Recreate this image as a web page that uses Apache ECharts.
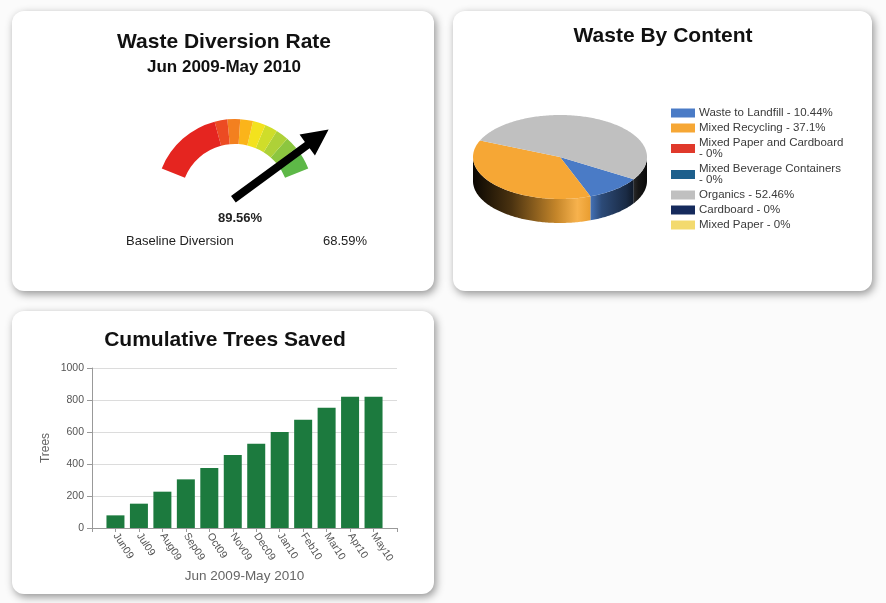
<!DOCTYPE html>
<html><head><meta charset="utf-8">
<script src="https://cdn.jsdelivr.net/npm/echarts@6/dist/echarts.min.js"></script>
<style>html,body{margin:0;padding:0;background:#fbfbfb}#c{width:886px;height:603px}</style>
</head><body><div id="c"></div>
<script>
// ---------- data ----------
const gaugeTitle = 'Waste Diversion Rate';
const gaugeSubtitle = 'Jun 2009-May 2010';
const gaugeValue = 89.56;
const baselineLabel = 'Baseline Diversion';
const baselineValue = 68.59;
const gaugeBandStops = [0.39, 0.459, 0.528, 0.597, 0.666, 0.735, 0.804, 0.873, 1];
const gaugeBandColors = ['#e52520', '#ec4b23', '#f3801f', '#fbb41a', '#f3e21e', '#cfdd2a', '#aed138', '#8cc63f', '#5db847'];

const pieTitle = 'Waste By Content';
const pieNames = ['Waste to Landfill', 'Mixed Recycling', 'Mixed Paper and Cardboard', 'Mixed Beverage Containers', 'Organics', 'Cardboard', 'Mixed Paper'];
const pieValues = [10.44, 37.1, 0, 0, 52.46, 0, 0];
const pieColors = ['#4a7bc6', '#f6a735', '#e0392b', '#1d5f8c', '#c0c0c0', '#152a5c', '#f3da6e'];

const barTitle = 'Cumulative Trees Saved';
const months = ['Jun09', 'Jul09', 'Aug09', 'Sep09', 'Oct09', 'Nov09', 'Dec09', 'Jan10', 'Feb10', 'Mar10', 'Apr10', 'May10'];
const treesSaved = [79, 152, 227, 304, 375, 456, 527, 600, 677, 752, 821, 821];
const treeAxis = { min: 0, max: 1000, step: 200, name: 'Trees' };
const barXName = 'Jun 2009-May 2010';

// ---------- helpers ----------
const FONT = 'Liberation Sans, Arial, sans-serif';
function shade(hex, f) {
  const n = parseInt(hex.slice(1), 16);
  let r = (n >> 16) & 255, g = (n >> 8) & 255, b = n & 255;
  if (f <= 1) { r *= f; g *= f; b *= f; }
  else { const t = f - 1; r += (255 - r) * t; g += (255 - g) * t; b += (255 - b) * t; }
  return 'rgb(' + Math.round(r) + ',' + Math.round(g) + ',' + Math.round(b) + ')';
}

// pie geometry (3D look)
const PIE = { cx: 560, cy: 157, rx: 87, ry: 42, depth: 24, start: -32 };
const total = pieValues.reduce((a, b) => a + b, 0);
let cum = 0;
const pieSlices = pieValues.map(v => {
  const a0 = PIE.start - cum / total * 360;
  cum += v;
  const a1 = PIE.start - cum / total * 360;
  return [v, a0, a1];
});

function ept(deg, dy) {
  const t = deg * Math.PI / 180;
  return [PIE.cx + PIE.rx * Math.cos(t), PIE.cy - PIE.ry * Math.sin(t) + (dy || 0)];
}
function arc(from, to, dy) {
  const pts = [];
  const n = Math.max(2, Math.ceil(Math.abs(to - from)));
  for (let i = 0; i <= n; i++) pts.push(ept(from + (to - from) * i / n, dy));
  return pts;
}
function renderSlice(params, api) {
  const v = api.value(0);
  if (!v) return null;
  const a0 = api.value(1), a1 = api.value(2);
  const base = api.visual('color');
  const children = [];
  for (let k = -1; k <= 2; k++) {
    const f0 = -180 - 360 * k, f1 = -360 * k;
    const lo = Math.max(a1, f0), hi = Math.min(a0, f1);
    if (hi > lo) {
      const pts = arc(lo, hi, 0).concat(arc(hi, lo, PIE.depth));
      children.push({
        type: 'polygon', z2: 1, shape: { points: pts },
        style: {
          fill: {
            type: 'linear', global: true, x: PIE.cx - PIE.rx, y: 0, x2: PIE.cx + PIE.rx, y2: 0,
            colorStops: [
              { offset: 0, color: shade(base, 0.04) },
              { offset: 0.22, color: shade(base, 0.3) },
              { offset: 0.48, color: shade(base, 0.8) },
              { offset: 0.6, color: shade(base, 1.12) },
              { offset: 0.67, color: shade(base, 0.95) },
              { offset: 0.74, color: shade(base, 0.6) },
              { offset: 0.88, color: shade(base, 0.35) },
              { offset: 0.95, color: shade(base, 0.12) },
              { offset: 1, color: shade(base, 0.05) }
            ]
          }
        }
      });
    }
  }
  children.push({
    type: 'polygon', z2: 10,
    shape: { points: [[PIE.cx, PIE.cy]].concat(arc(a0, a1, 0)) },
    style: { fill: base }
  });
  return { type: 'group', children: children };
}

// ---------- chart ----------
const chart = echarts.init(document.getElementById('c'), null, { renderer: 'canvas' });

function panel(x, y, w, h) {
  return {
    type: 'rect', z: -10, silent: true,
    shape: { x: x, y: y, width: w, height: h, r: 12 },
    style: { fill: '#ffffff', shadowBlur: 8, shadowColor: 'rgba(0,0,0,0.42)', shadowOffsetX: 2, shadowOffsetY: 3 }
  };
}

const bandColors = gaugeBandStops.map((s, i) => [s, gaugeBandColors[i]]);

const pieSeries = pieNames.map((name, i) => ({
  type: 'custom', name: name, coordinateSystem: 'none', silent: true,
  itemStyle: { color: pieColors[i] },
  renderItem: renderSlice,
  data: [pieSlices[i]]
}));

const option = {
  animation: false,
  backgroundColor: '#fbfbfb',
  textStyle: { fontFamily: FONT },
  title: [
    { text: gaugeTitle, left: 224, top: 32, textAlign: 'center', padding: 0,
      textStyle: { fontSize: 21, fontWeight: 'bold', color: '#111', fontFamily: FONT } },
    { text: gaugeSubtitle, left: 224, top: 59, textAlign: 'center', padding: 0,
      textStyle: { fontSize: 17, fontWeight: 'bold', color: '#111', fontFamily: FONT } },
    { text: pieTitle, left: 663, top: 26, textAlign: 'center', padding: 0,
      textStyle: { fontSize: 21, fontWeight: 'bold', color: '#111', fontFamily: FONT } },
    { text: barTitle, left: 225, top: 330, textAlign: 'center', padding: 0,
      textStyle: { fontSize: 21, fontWeight: 'bold', color: '#111', fontFamily: FONT } }
  ],
  graphic: [
    panel(12, 11, 422, 280),
    panel(453, 11, 419, 280),
    panel(12, 311, 422, 283),
    { type: 'text', z: 5, style: { x: 126, y: 241, text: baselineLabel, verticalAlign: 'middle',
      font: '13px ' + FONT, fill: '#222' } },
    { type: 'text', z: 5, style: { x: 323, y: 241, text: baselineValue.toFixed(2) + '%', verticalAlign: 'middle',
      font: '13px ' + FONT, fill: '#222' } }
  ],
  legend: {
    orient: 'vertical', left: 671, top: 107, padding: 0, itemGap: 3,
    icon: 'rect', itemWidth: 24, itemHeight: 9, selectedMode: false,
    data: pieNames,
    formatter: name => {
      const v = pieValues[pieNames.indexOf(name)];
      return name + (name.length > 20 ? '\n- ' : ' - ') + v + '%';
    },
    textStyle: { fontSize: 11.5, lineHeight: 11, color: '#3a3a3a', fontFamily: FONT, padding: [0, 0, 0, -1] }
  },
  grid: { left: 92, top: 368, width: 305, height: 160 },
  xAxis: {
    type: 'value', min: -1, max: 12, interval: 1,
    name: barXName, nameLocation: 'middle', nameGap: 41,
    nameTextStyle: { fontSize: 13.5, color: '#666', fontFamily: FONT },
    axisLine: { show: true, onZero: false, lineStyle: { color: '#999' } },
    axisTick: { show: true, length: 4, lineStyle: { color: '#999' } },
    splitLine: { show: false },
    axisLabel: {
      rotate: -57, margin: 6, fontSize: 10.5, color: '#555', fontFamily: FONT,
      formatter: v => (months[v] !== undefined ? months[v] : '')
    }
  },
  yAxis: {
    type: 'value', min: treeAxis.min, max: treeAxis.max, interval: treeAxis.step,
    name: treeAxis.name, nameLocation: 'middle', nameGap: 40, nameRotate: 90,
    nameTextStyle: { fontSize: 12, color: '#666', fontFamily: FONT },
    axisLine: { show: true, onZero: false, lineStyle: { color: '#999' } },
    axisTick: { show: true, length: 5, lineStyle: { color: '#999' } },
    splitLine: { show: true, lineStyle: { color: '#dcdcdc' } },
    axisLabel: { fontSize: 10.5, color: '#555', margin: 8, fontFamily: FONT, formatter: v => String(v) }
  },
  series: [
    {
      type: 'gauge', center: [235, 198], radius: 79, startAngle: 158, endAngle: 22,
      min: 0, max: 100, z: 5,
      axisLine: { lineStyle: { width: 25, color: bandColors } },
      splitLine: { show: false }, axisTick: { show: false }, axisLabel: { show: false },
      progress: { show: false }, anchor: { show: false }, title: { show: false },
      pointer: {
        icon: 'path://M12,0 L25,26 L16,26 L16,116 L8,116 L8,26 L-1,26 Z',
        length: 118, width: 26, offsetCenter: [0, 2], itemStyle: { color: '#000' }
      },
      detail: {
        offsetCenter: [5, 20], formatter: v => v.toFixed(2) + '%',
        fontSize: 13, fontWeight: 'bold', color: '#222', fontFamily: FONT
      },
      data: [{ value: gaugeValue }]
    },
    {
      type: 'bar', name: 'Trees', barWidth: 18, z: 5,
      itemStyle: { color: '#1c7a3e' },
      data: treesSaved.map((v, i) => [i, v])
    }
  ].concat(pieSeries)
};
chart.setOption(option);
</script>
</body></html>
